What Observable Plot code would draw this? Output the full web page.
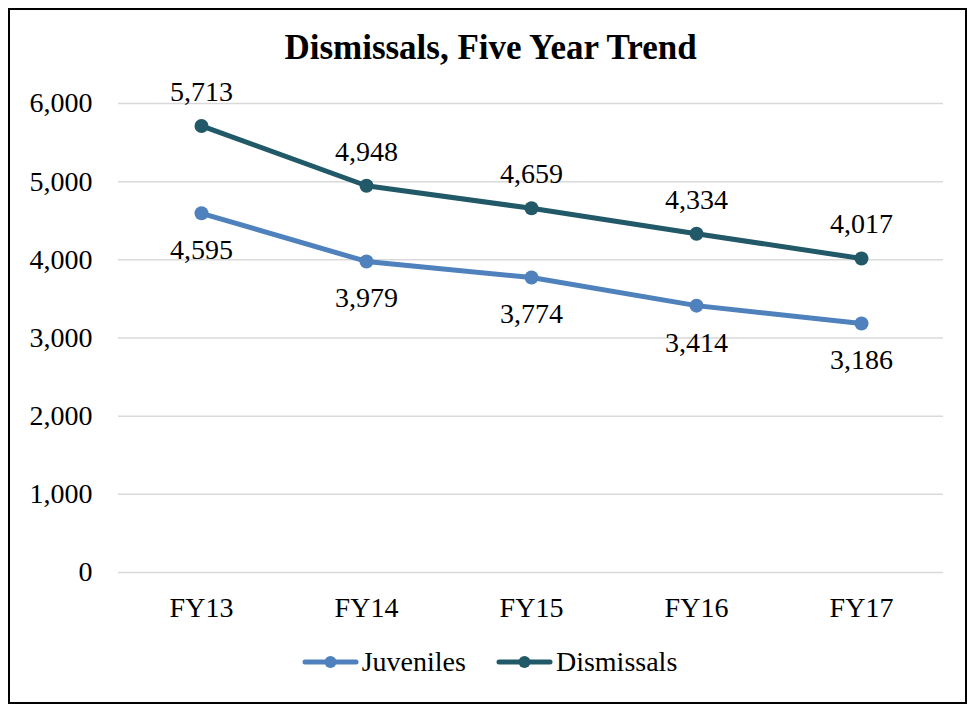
<!DOCTYPE html>
<html>
<head>
<meta charset="utf-8">
<script src="https://cdn.jsdelivr.net/npm/d3@7"></script>
<script src="https://cdn.jsdelivr.net/npm/@observablehq/plot@0.6"></script>
<style>
  html, body { margin: 0; padding: 0; background: #fff; }
  #wrap { position: relative; width: 973px; height: 708px; font-family: "Liberation Serif", "Times New Roman", serif; }
  #frame { position: absolute; left: 8px; top: 8px; width: 955px; height: 692px; border: 2px solid #000; box-sizing: content-box; }
  #title { position: absolute; left: 0; width: 981px; top: 28px; text-align: center; font-weight: bold; font-size: 35px; line-height: 40px; color: #000; }
  #chart { position: absolute; left: 0; top: 0; }
  #legend { position: absolute; left: 0; width: 973px; top: 645px; height: 34px; display: flex; justify-content: center; align-items: center; font-size: 28px; line-height: 34px; color: #000; padding-left: 6px; box-sizing: border-box; }
  .item { display: flex; align-items: center; margin: 0 15px; }
  .item svg { margin-right: 3px; }
</style>
</head>
<body>
<div id="wrap">
  <div id="frame"></div>
  <div id="chart"></div>
  <div id="title">Dismissals, Five Year Trend</div>
  <div id="legend"></div>
</div>
<script>
const years = ["FY13", "FY14", "FY15", "FY16", "FY17"];
const juveniles = [4595, 3979, 3774, 3414, 3186];
const dismissals = [5713, 4948, 4659, 4334, 4017];
const seriesNames = ["Juveniles", "Dismissals"];
const seriesColors = ["#4f81bd", "#215968"];
const yTicks = [0, 1000, 2000, 3000, 4000, 5000, 6000];

const rows = [];
years.forEach((y, i) => {
  rows.push({year: y, value: juveniles[i], series: "Juveniles"});
  rows.push({year: y, value: dismissals[i], series: "Dismissals"});
});
const juv = rows.filter(d => d.series === "Juveniles");
const dis = rows.filter(d => d.series === "Dismissals");
const fmt = d3.format(",");

const chart = Plot.plot({
  width: 973,
  height: 708,
  marginLeft: 118,
  marginRight: 30,
  marginTop: 103,
  marginBottom: 136,
  style: {fontFamily: "Liberation Serif, Times New Roman, serif", fontSize: "28px", color: "#000", background: "transparent"},
  x: {type: "point", domain: years, padding: 0.5, label: null},
  y: {domain: [0, 6000], label: null},
  color: {domain: seriesNames, range: seriesColors},
  marks: [
    Plot.gridY(yTicks, {stroke: "#d9d9d9", strokeOpacity: 1, strokeWidth: 1.5}),
    Plot.axisY(yTicks, {tickSize: 0, tickPadding: 26, tickFormat: fmt, fontSize: 28, label: null}),
    Plot.axisX({tickSize: 0, tickPadding: 25, fontSize: 28, label: null}),
    Plot.line(rows, {x: "year", y: "value", z: "series", stroke: "series", strokeWidth: 5, strokeLinecap: "round"}),
    Plot.dot(rows, {x: "year", y: "value", fill: "series", r: 7}),
    Plot.text(dis, {x: "year", y: "value", text: d => fmt(d.value), dy: -34, fontSize: 28, fill: "#000"}),
    Plot.text(juv, {x: "year", y: "value", text: d => fmt(d.value), dy: 37, fontSize: 28, fill: "#000"})
  ]
});
document.getElementById("chart").appendChild(chart);

const legend = document.getElementById("legend");
seriesNames.forEach((name, i) => {
  const item = document.createElement("div");
  item.className = "item";
  item.innerHTML = `<svg width="57" height="16"><line x1="3" y1="8" x2="54" y2="8" stroke="${seriesColors[i]}" stroke-width="5" stroke-linecap="round"/><circle cx="28.5" cy="8" r="6" fill="${seriesColors[i]}"/></svg><span>${name}</span>`;
  legend.appendChild(item);
});
</script>
</body>
</html>
